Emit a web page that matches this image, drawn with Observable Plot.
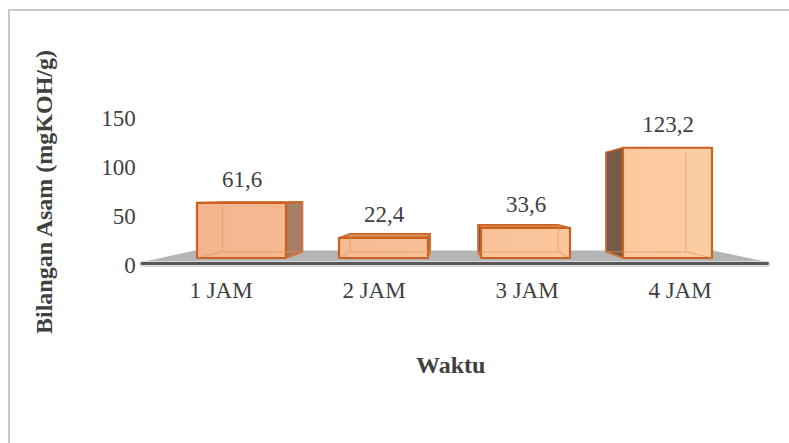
<!DOCTYPE html>
<html>
<head>
<meta charset="utf-8">
<script src="https://cdn.jsdelivr.net/npm/d3@7"></script>
<script src="https://cdn.jsdelivr.net/npm/@observablehq/plot@0.6"></script>
<style>
  html, body { margin: 0; padding: 0; background: #fff; }
  #chart { position: relative; width: 789px; height: 443px; overflow: hidden; }
  #chart .edge { position: absolute; left: 8px; top: 9px; width: 900px; height: 600px;
                 border-top: 2px solid #c8c8c8; border-left: 2px solid #c8c8c8; }
  #chart svg { position: absolute; left: 0; top: 0; }
</style>
</head>
<body>
<div id="chart"><div class="edge"></div></div>
<script>
// Acid number per reaction time
const hours = ["1 JAM", "2 JAM", "3 JAM", "4 JAM"];
const acidValues = [61.6, 22.4, 33.6, 123.2];
const yTicks = [0, 50, 100, 150];
const yTitle = "Bilangan Asam (mgKOH/g)";
const xTitle = "Waktu";

const data = hours.map((hour, i) => ({hour, value: acidValues[i]}));
const idFormat = d3.formatLocale({decimal: ",", thousands: ".", grouping: [3], currency: ["Rp", ""]}).format(".1f");

const W = 789, H = 443;
const FONT = "'Liberation Serif', 'Times New Roman', serif";
const INK = "#404040";
// perspective of the 3D scene: vanishing point and depth fraction
const VP = [451, 195];
const BOX_DEPTH = 0.1;
const FLOOR_DEPTH = 0.17;
const toBack = (p, k) => [p[0] + k * (VP[0] - p[0]), p[1] + k * (VP[1] - p[1])];
const pts = arr => arr.map(p => p.join(",")).join(" ");

// gray floor slab the boxes stand on
function floorRender(index, scales, values, dims) {
  const y0 = scales.y(0);
  const xa = dims.marginLeft - 1, xb = dims.width - dims.marginRight + 10;
  const fl = [xa, y0 - 3], fr = [xb, y0 - 3];
  const g = d3.create("svg:g");
  g.append("polygon")
    .attr("points", pts([fl, fr, toBack(fr, FLOOR_DEPTH), toBack(fl, FLOOR_DEPTH)]))
    .attr("fill", "#b5b5b5");
  g.append("line")
    .attr("x1", xa).attr("x2", xb).attr("y1", y0 - 1).attr("y2", y0 - 1)
    .attr("stroke", "#d9d9d9").attr("stroke-width", 6).attr("stroke-linecap", "round");
  g.append("line")
    .attr("x1", xa).attr("x2", xb).attr("y1", y0 - 1.5).attr("y2", y0 - 1.5)
    .attr("stroke", "#575757").attr("stroke-width", 3.2).attr("stroke-linecap", "round");
  return g.node();
}

// 3D boxes: side and top faces, translucent front face, faint hidden edges
function boxRender(index, scales) {
  const x = scales.x, y = scales.y;
  const bw = x.bandwidth();
  const y0 = y(0);
  const g = d3.create("svg:g");
  const grad = g.append("defs").append("linearGradient")
    .attr("id", "box-face").attr("gradientUnits", "userSpaceOnUse")
    .attr("x1", x(hours[0])).attr("x2", x(hours[hours.length - 1]) + bw)
    .attr("y1", 0).attr("y2", 0);
  grad.append("stop").attr("offset", 0).attr("stop-color", "#f3b58d");
  grad.append("stop").attr("offset", 1).attr("stop-color", "#fdcda2");
  const outline = "#c9621f";
  for (const i of index) {
    const d = data[i];
    const xl = x(d.hour), xr = xl + bw, yt = y(d.value), yb = y0;
    const FLT = [xl, yt], FRT = [xr, yt], FLB = [xl, yb], FRB = [xr, yb];
    const [BLT, BRT, BLB, BRB] = [FLT, FRT, FLB, FRB].map(p => toBack(p, BOX_DEPTH));
    const box = g.append("g").attr("stroke-linejoin", "round");
    if (xr < VP[0]) {
      box.append("polygon").attr("points", pts([FRT, BRT, BRB, FRB]))
        .attr("fill", "#a77d63").attr("stroke", outline).attr("stroke-width", 1.5);
    } else if (xl > VP[0]) {
      box.append("polygon").attr("points", pts([FLT, BLT, BLB, FLB]))
        .attr("fill", "#775b47").attr("stroke", outline).attr("stroke-width", 1.5);
    }
    if (yt > VP[1]) {
      box.append("polygon").attr("points", pts([FLT, FRT, BRT, BLT]))
        .attr("fill", "#d88d5b").attr("stroke", outline).attr("stroke-width", 1.5);
    }
    box.append("rect")
      .attr("x", xl).attr("y", yt).attr("width", bw).attr("height", yb - yt)
      .attr("fill", "url(#box-face)").attr("stroke", outline).attr("stroke-width", 2.2);
    box.append("path")
      .attr("d", `M${BLT}L${BLB}L${BRB}L${BRT}M${FLB}L${BLB}M${FRB}L${BRB}`)
      .attr("fill", "none").attr("stroke", "#e58f58").attr("stroke-opacity", 0.45).attr("stroke-width", 1.4);
  }
  return g.node();
}

const baseStyle = {background: "transparent", fontFamily: FONT, fontSize: "23px", color: INK, overflow: "visible"};

// value axis on the back wall and category axis along the floor's front edge
const axes = Plot.plot({
  width: W, height: H,
  marginLeft: 143.25, marginRight: 31.75, marginTop: 118, marginBottom: 178,
  style: baseStyle,
  x: {type: "band", domain: hours, padding: 0},
  y: {domain: [0, 150]},
  marks: [
    Plot.ruleY([0], {render: floorRender}),
    Plot.axisY({ticks: yTicks, tickSize: 0, tickPadding: 8, label: null, fill: INK}),
    Plot.axisX({tickSize: 0, tickPadding: 16, label: null, fill: INK}),
    Plot.text([yTitle], {frameAnchor: "left", dx: -99, rotate: -90, textAnchor: "middle", fontWeight: "bold", fontSize: 24, fill: INK, lineAnchor: "middle"}),
    Plot.text([xTitle], {frameAnchor: "bottom", dy: 100, textAnchor: "middle", fontWeight: "bold", fontSize: 24, fill: INK, lineAnchor: "middle"})
  ]
});

// boxes standing in the middle depth of the scene
const boxes = Plot.plot({
  width: W, height: H,
  marginLeft: 169.3, marginRight: 49, marginTop: 123.75, marginBottom: 185,
  style: baseStyle,
  x: {type: "band", domain: hours, paddingInner: 0.37, paddingOuter: 0.185, axis: null},
  y: {domain: [0, 150], axis: null},
  marks: [
    Plot.barY(data, {x: "hour", y: "value", render: boxRender}),
    Plot.text(data, {x: "hour", y: "value", text: d => idFormat(d.value), dy: -24, lineAnchor: "middle", fill: INK})
  ]
});

const chart = document.getElementById("chart");
chart.appendChild(axes);
chart.appendChild(boxes);
</script>
</body>
</html>
